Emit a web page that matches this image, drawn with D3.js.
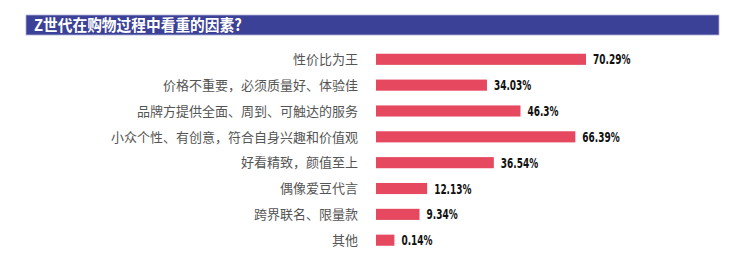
<!DOCTYPE html>
<html><head><meta charset="utf-8">
<script src="https://cdn.jsdelivr.net/npm/d3@7"></script>
<style>body{margin:0;background:#fff;}svg{display:block;}</style>
</head><body>
<script>
const title = "Z世代在购物过程中看重的因素?";
const categories = ["性价比为王","价格不重要，必须质量好、体验佳","品牌方提供全面、周到、可触达的服务","小众个性、有创意，符合自身兴趣和价值观","好看精致，颜值至上","偶像爱豆代言","跨界联名、限量款","其他"];
const values = [70.29, 34.03, 46.3, 66.39, 36.54, 12.13, 9.34, 0.14];
const valueLabels = ["70.29%","34.03%","46.3%","66.39%","36.54%","12.13%","9.34%","0.14%"];

const W = 740, H = 255;
const svg = d3.select("body").append("svg").attr("width", W).attr("height", H);

svg.append("rect").attr("x", 26).attr("y", 15).attr("width", 693).attr("height", 20)
  .attr("fill", "#3b4196").attr("stroke", "#aeb2d8").attr("stroke-width", 0.8);
svg.append("text").attr("transform", "translate(34,31) scale(0.92,1)").text(title)
  .attr("fill", "#fff").attr("font-family", "Noto Sans CJK SC").attr("font-weight", "bold").attr("font-size", 16);

const y = d3.scaleBand().domain(categories).range([46.5, 253]).paddingInner(0.57).paddingOuter(0.28);
const x = d3.scaleLinear().domain([0, 70.29]).range([394, 586]);
const x0 = 376;

const g = svg.append("g");
categories.forEach((c, i) => {
  const yc = y(c) + y.bandwidth() / 2;
  const w = Math.max(x(values[i]) - x0, 10);
  g.append("rect").attr("x", x0).attr("y", y(c)).attr("width", w).attr("height", y.bandwidth())
    .attr("fill", "#e5485f");
  g.append("text").attr("x", 358).attr("y", yc).attr("dy", "0.36em").attr("text-anchor", "end")
    .attr("font-family", "Noto Sans CJK SC").attr("font-size", 13).attr("fill", "#555").text(c);
  g.append("text").attr("transform", `translate(${x0 + w + 7},${yc}) scale(0.74,1)`).attr("dy", "0.37em")
    .attr("font-family", "DejaVu Sans").style("font-stretch", "condensed").attr("font-weight", "bold")
    .attr("font-size", 13.5).attr("fill", "#111").text(valueLabels[i]);
});
</script>
</body></html>
